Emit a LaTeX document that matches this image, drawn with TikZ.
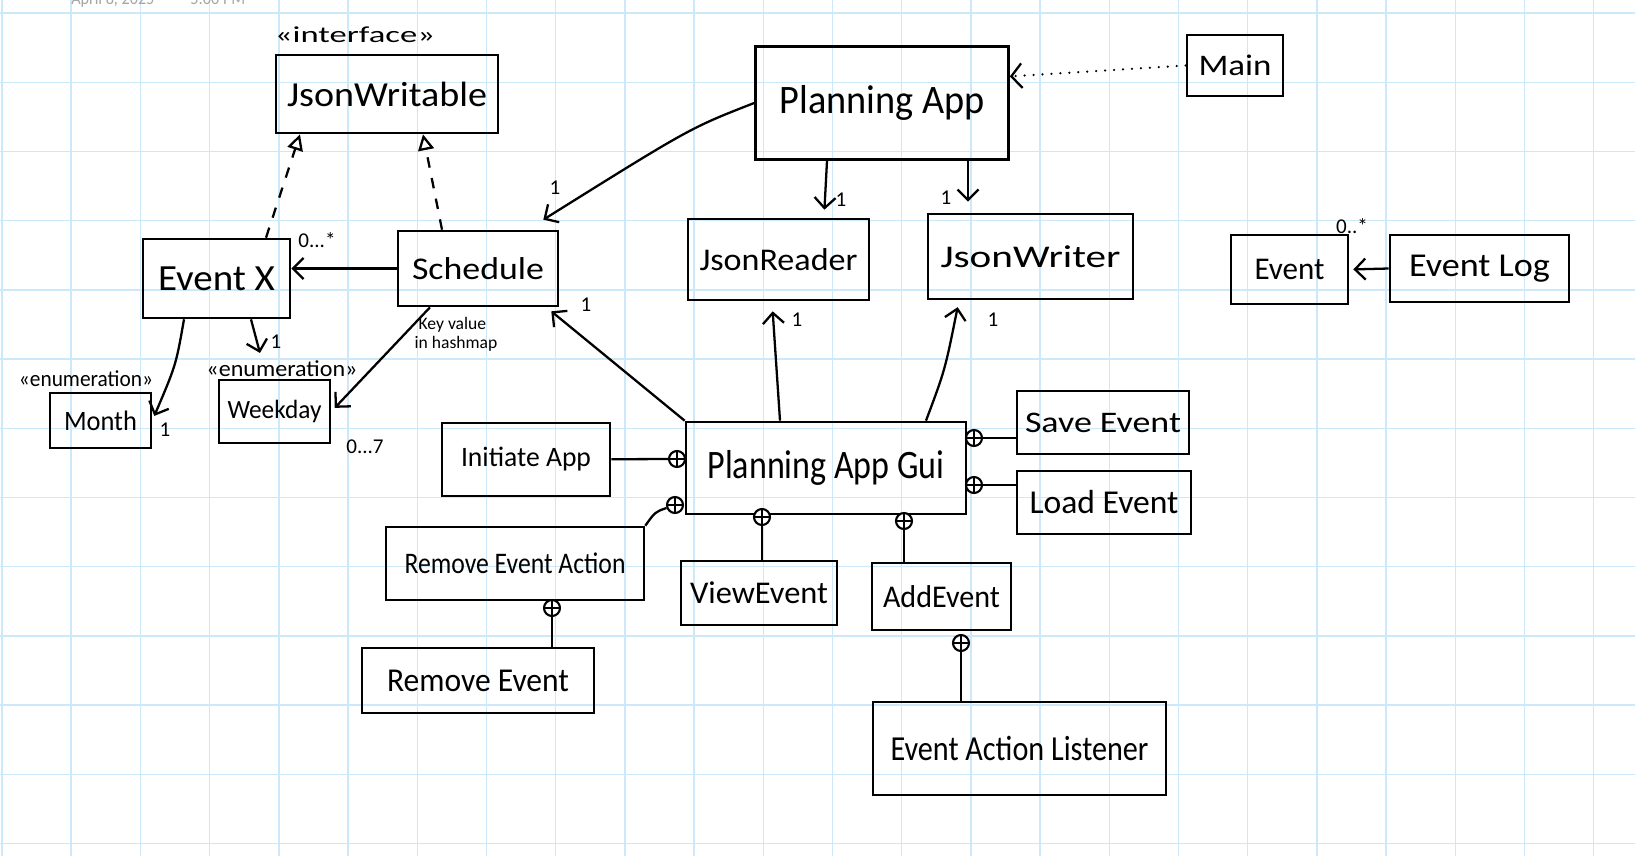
\documentclass[tikz,border=0pt]{standalone}
\usepackage{fontspec}
\setmainfont{Carlito}
\usepackage{graphicx}
\usetikzlibrary{arrows.meta,calc}
\newlength\pxu
\setlength\pxu{.02cm}
\newcommand\hand[2]{\resizebox{#1\pxu}{\height}{#2}}
\definecolor{gridblue}{RGB}{205,232,249}
\definecolor{stampgray}{RGB}{165,165,165}
\tikzset{
  gridline/.style={draw=gridblue, line width=.8pt},
  umlbox/.style={draw, line width=1.5pt, inner sep=0pt},
  stereo/.style={inner sep=0pt, font=\fontsize{13}{13}\selectfont},
  mult/.style={inner sep=0pt, font=\fontsize{12}{12}\selectfont},
  assoc/.style={line width=1.3pt, -{Straight Barb[length=6pt,width=12pt]}},
  realize/.style={line width=1.3pt, dash pattern=on 6pt off 6pt, -{Triangle[open,length=9pt,width=9pt]}},
  usage/.style={line width=1.3pt, line cap=round, dash pattern=on .1pt off 5pt, -{Straight Barb[length=6pt,width=14pt]}},
  nestline/.style={line width=1.3pt},
  nest/.style={circle, draw, line width=1.2pt, fill=white, minimum size=.32cm, inner sep=0pt,
    path picture={\draw[line width=1pt] (path picture bounding box.north) -- (path picture bounding box.south)
      (path picture bounding box.west) -- (path picture bounding box.east);}}
}
\begin{document}
\begin{tikzpicture}[x={(.02cm,0)}, y={(0,-.02cm)}]
  \clip (0,0) rectangle (1635,856);
  \fill[white] (0,0) rectangle (1635,856);
  \foreach \k in {0,...,23}
  {\draw[gridline] (2+\k*69.2,0) -- (2+\k*69.2,856);}
  \foreach \k in {0,...,12}
  {\draw[gridline] (0,13+\k*69.2) -- (1635,13+\k*69.2);}
  \node[inner sep=0pt, anchor=base west, text=stampgray, font=\fontsize{10}{10}\selectfont] (stampday) at (71,4.5) {\hand{83}{April 8, 2025}};
  \node[inner sep=0pt, anchor=base west, text=stampgray, font=\fontsize{10}{10}\selectfont] (stamptime) at (190,4.5) {\hand{55}{5:00 PM}};
  % classes
  \foreach \n/\x/\y/\w/\h/\tw/\s/\t in {
    jsonwr/387/94/222/78/200/20/JsonWritable,
    app/882/103/253/113/205/23/Planning App,
    main/1235/65.5/96/61/73/17/Main,
    evx/216.5/278.5/147/79/117/21/Event X,
    sched/478/268.5/160/75/132/18/Schedule,
    reader/778.5/259.5/181/81/158/18/JsonReader,
    writer/1030.5/256.5/205/85/180/18/JsonWriter,
    ev/1289.5/269.5/117/69/70/18/Event,
    evlog/1479.5/268.5/179/67/141/19/Event Log,
    month/100.5/420.5/101/55/73/16/Month,
    week/274.5/411.5/111/63/94/15/Weekday,
    init/526/459.5/168/73/130/16/Initiate App,
    gui/826/468/280/92/237/23/Planning App Gui,
    save/1103/422.5/172/63/156/17/Save Event,
    load/1104/502.5/174/63/149/19/Load Event,
    rmact/515/563.5/258/73/221/17/Remove Event Action,
    view/759/593/156/64/138/18/ViewEvent,
    add/941.5/596.5/139/67/117/18/AddEvent,
    rm/478/680.5/232/65/182/19/Remove Event,
    listener/1019.5/748.5/293/93/258/20/Event Action Listener}
  {\node[umlbox, minimum width=\w*.02cm, minimum height=\h*.02cm] (\n) at (\x,\y)
    {\fontsize{\s}{\s}\selectfont\hand{\tw}{\t}};}
  \node[stereo] (iface) at (355,35) {\hand{160}{«interface»}};
  \node[stereo] (enumMonth) at (86,379) {\hand{134}{«enumeration»}};
  \node[stereo] (enumWeek) at (282,369) {\hand{151}{«enumeration»}};
  % generalisations and associations
  \draw[realize] (266,0 |- evx.north) -- (300,0 |- jsonwr.south);
  \draw[realize] (442,0 |- sched.north) -- (423,0 |- jsonwr.south);
  \draw[assoc] (sched.west) -- (sched.west -| evx.east);
  \draw[assoc] (app.west) .. controls (690,128) .. ([shift={(-16,-10)}]sched.north east);
  \draw[assoc, shorten >=8*.02cm] (827,0 |- app.south) -- (824,0 |- reader.north);
  \draw[assoc, shorten >=11*.02cm] (968,0 |- app.south) -- (968,0 |- writer.north);
  \draw[usage] (main.west) -- ($(app.north east)!.27!(app.south east)$);
  \draw[assoc, shorten >=4*.02cm] (evlog.west) -- (ev.east);
  \draw[assoc, shorten >=5*.02cm] (184,0 |- evx.south) .. controls (176,365) .. (month.east);
  \draw[assoc, shorten >=8*.02cm] (251,0 |- evx.south) -- (262,0 |- enumWeek.north);
  \draw[assoc, shorten >=5*.02cm] (430,0 |- sched.south) -- (week.east);
  \draw[assoc] (gui.north west) -- ([shift={(-8,4)}]sched.south east);
  \draw[assoc, shorten >=10*.02cm] (780,0 |- gui.north) -- (772,0 |- reader.south);
  \draw[assoc, shorten >=7*.02cm] (926,0 |- gui.north) .. controls (945,370) .. (959,0 |- writer.south);
  \foreach \l/\x/\y [count=\i] in {0{.}{.}{.}*/317/240, 1/555/188, 1/586/305, 1/276/342, 1/165/430,
    0{.}{.}{.}7/365/447, 1/841/200, 1/946/198, 1/797/320, 1/993/320, 0{.}{.}*/1352/226}
  {\node[mult] (m\i) at (\x,\y) {\l};}
  \node[mult, align=left, font=\fontsize{10}{11}\selectfont] (keynote) at (456,334) {\ Key value\\in hashmap};
  % nested classes
  \foreach \c/\x/\y in {cinit/677/459, crmact/675/505, cview/762/517, cadd/904/521,
    csave/974/438, cload/974/485, crm/552/608, clist/961/643}
  {\node[nest] (\c) at (\x,\y) {};}
  \draw[nestline] (init) -- (cinit);
  \draw[nestline] (crmact) .. controls (655,512) .. (rmact.north east);
  \draw[nestline] (cview) -- (cview |- view.north);
  \draw[nestline] (cadd) -- (cadd |- add.north);
  \draw[nestline] (csave) -- (csave -| save.west);
  \draw[nestline] (cload) -- (cload -| load.west);
  \draw[nestline] (crm) -- (crm |- rm.north);
  \draw[nestline] (clist) -- (clist |- listener.north);
\end{tikzpicture}
\end{document}
